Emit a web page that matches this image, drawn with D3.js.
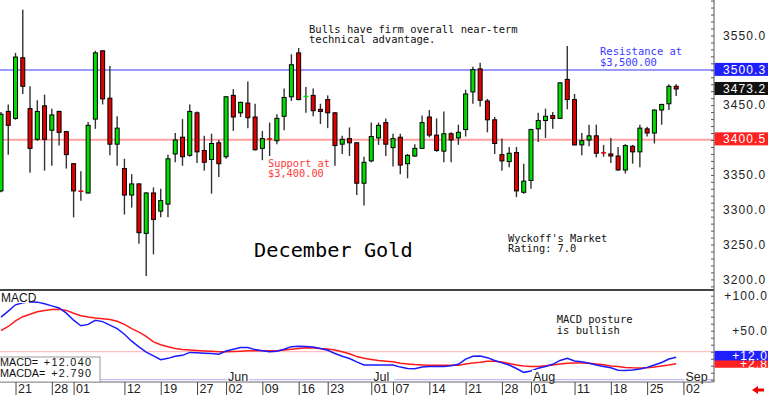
<!DOCTYPE html>
<html><head><meta charset="utf-8">
<script src="https://cdn.jsdelivr.net/npm/d3@7"></script>
<style>body{margin:0;background:#fff}svg{display:block}</style>
</head><body><svg id="c" width="768" height="398"></svg>
<script>
// ---------- data ----------
const dates = ("04-16 04-17 04-21 04-22 04-23 04-24 04-25 04-28 04-29 04-30 " +
 "05-01 05-02 05-05 05-06 05-07 05-08 05-09 05-12 05-13 05-14 05-15 05-16 05-19 05-20 05-21 05-22 05-23 05-27 05-28 05-29 05-30 " +
 "06-02 06-03 06-04 06-05 06-06 06-09 06-10 06-11 06-12 06-13 06-16 06-17 06-18 06-20 06-23 06-24 06-25 06-26 06-27 06-30 " +
 "07-01 07-02 07-03 07-07 07-08 07-09 07-10 07-11 07-14 07-15 07-16 07-17 07-18 07-21 07-22 07-23 07-24 07-25 07-28 07-29 07-30 07-31 " +
 "08-01 08-04 08-05 08-06 08-07 08-08 08-11 08-12 08-13 08-14 08-15 08-18 08-19 08-20 08-21 08-22 08-25 08-26 08-27 08-28 08-29 " +
 "09-02 09-03 09-04 09-05 09-08").split(" ");
const open  = [3327,3441,3431,3518,3445,3401,3449,3414,3441,3412,3366,3327,3324,3430,3528,3460,3394,3359,3321,3337,3266,3324,3298,3308,3380,3404,3378,3439,3385,3372,3396,3376,3464,3439,3453,3433,3388,3402,3399,3434,3462,3525,3462,3464,3444,3458,3439,3394,3402,3396,3338,3370,3403,3425,3389,3404,3366,3377,3388,3433,3407,3384,3409,3403,3415,3469,3502,3456,3429,3379,3369,3382,3325,3342,3416,3428,3435,3431,3487,3458,3393,3400,3406,3382,3380,3377,3357,3391,3383,3416,3410,3443,3452,3477];
const high  = [3440,3451,3525,3587,3477,3457,3465,3445,3442,3413,3367,3355,3426,3528,3529,3506,3434,3373,3351,3338,3325,3332,3330,3379,3410,3430,3451,3441,3406,3409,3400,3463,3473,3455,3484,3452,3413,3425,3437,3474,3523,3532,3476,3474,3452,3464,3440,3406,3418,3397,3376,3425,3425,3431,3409,3409,3380,3394,3435,3443,3431,3441,3411,3422,3472,3505,3511,3459,3433,3402,3390,3390,3366,3416,3439,3445,3440,3483,3535,3466,3410,3422,3422,3393,3403,3390,3394,3393,3422,3419,3444,3452,3480,3480];
const low   = [3325,3379,3429,3466,3353,3399,3356,3363,3392,3359,3289,3313,3323,3416,3451,3378,3363,3293,3303,3251,3205,3236,3289,3289,3368,3363,3376,3367,3356,3323,3347,3373,3413,3433,3417,3385,3371,3377,3394,3414,3456,3457,3439,3434,3423,3417,3363,3380,3377,3321,3306,3368,3393,3377,3362,3351,3345,3376,3387,3404,3383,3368,3368,3393,3405,3452,3448,3411,3380,3356,3361,3318,3323,3330,3397,3403,3416,3430,3444,3392,3378,3391,3375,3376,3367,3356,3352,3366,3361,3405,3395,3422,3443,3463];
const close = [3437,3421,3519,3477,3388,3441,3401,3436,3411,3379,3327,3326,3421,3525,3459,3394,3417,3321,3337,3267,3324,3286,3313,3373,3400,3376,3441,3383,3368,3395,3366,3462,3433,3454,3432,3386,3402,3401,3431,3461,3508,3458,3463,3442,3441,3439,3392,3401,3396,3338,3368,3405,3421,3394,3402,3364,3378,3388,3425,3407,3385,3409,3400,3411,3466,3501,3457,3429,3395,3370,3381,3327,3341,3415,3428,3434,3431,3482,3458,3393,3399,3406,3381,3381,3377,3357,3392,3383,3417,3410,3443,3451,3477,3473.2];
const macd  = [69.5,78,87,90,91.4,90.8,88.5,85.5,82.5,75,65,57,59,64.8,63,58,53,45,35,27,19.5,14,8.5,10.5,13.5,14.8,19,18.4,17.9,17.5,16.5,21,23.5,26,26,23,21.5,20,20.7,23.5,27.2,27.8,27.5,26.7,24.5,22,17.5,13.5,10.3,5.5,1,1,1,1,1,-2,-4,-4.5,-2,-1,-1,-1,0,2,9.5,13.5,13.9,11.5,7.5,4,1,-4,-9.5,-7.5,-3.5,-1,2,7.5,10.5,6.7,5.5,3.5,1,-1,-2.9,-6.5,-6.7,-6,-4.7,-2.4,1,4.5,9.5,12.04];
const macda = [50,56,64,70,73.4,77,79,80.2,80.5,79,75,71.5,69.5,68,67,66,63.5,59,53,48,42,34,30,27,24.5,23,22.4,21.7,21.1,20.7,20,20,20.3,20.8,21.3,21.4,21.4,21.4,21.4,22.5,23.5,24.6,25.5,25.3,24.5,24,22.5,20,17,13,10.5,9,7.5,6.5,5.6,3.5,2.5,1.6,1.1,0.8,0.5,0.5,0.5,0.8,2.3,3.8,4.8,6.2,6.3,5.2,3.2,1,-0.5,-1.2,-1,0,1,2.5,3.5,3.8,3.8,3.5,2.5,1.5,-0.3,-1.2,-2.5,-3.1,-3.3,-3,-1.8,-0.5,1,2.79];
const tickDates = ["04-21","04-28","05-01","05-12","05-19","05-27","06-02","06-09","06-16","06-23","07-01","07-07","07-14","07-21","07-28","08-01","08-11","08-18","08-25","09-02"];
const monthLabels = ["Jun","Jul","Aug","Sep"];
const monthDates = ["06-02","07-01","08-01","09-02"];
const priceTicks = [3200,3250,3300,3350,3450,3550];
const macdTicks = [100,50];
const resistance = 3500.3, support = 3400.5, last = 3473.2;
const macdBand = [20,-20];

// ---------- layout ----------
const svg = d3.select("#c");
const axisX = 714, mBot = 382;
const x = d3.scaleLinear().domain([0, 98.21]).range([1, axisX]);
const y = d3.scaleLinear().domain([3400, 3500]).range([140, 70.3]);
const ym = d3.scaleLinear().domain([0, 100]).range([365.7, 295.7]);
const idx = d => dates.indexOf(d);
const mono = "'DejaVu Sans Mono', monospace";
const sans = "'Liberation Sans', Arial, sans-serif";
const defs = svg.append("defs");

svg.append("rect").attr("width",768).attr("height",398).attr("fill","#fff");

// support / resistance
svg.append("line").attr("x1",0).attr("x2",axisX).attr("y1",y(resistance)).attr("y2",y(resistance)).attr("stroke","#9a9aff").attr("stroke-width",2);
svg.append("line").attr("x1",0).attr("x2",axisX).attr("y1",y(support)).attr("y2",y(support)).attr("stroke","#ffa0a0").attr("stroke-width",2);

// candles
const cg = svg.append("g");
d3.range(close.length).forEach(i => {
  const up = close[i] >= open[i];
  const cx = x(i);
  cg.append("line").attr("x1",cx).attr("x2",cx).attr("y1",y(high[i])).attr("y2",y(low[i])).attr("stroke","#333").attr("stroke-width",1.4);
  const t = y(Math.max(open[i],close[i])), b = y(Math.min(open[i],close[i]));
  const col = up ? "#00dd00" : "#e00000";
  if (b - t < 1.5) {
    cg.append("line").attr("x1",cx-2.5).attr("x2",cx+2.5).attr("y1",(t+b)/2).attr("y2",(t+b)/2).attr("stroke",col).attr("stroke-width",1.5);
  } else {
    cg.append("rect").attr("x",cx-2).attr("width",4).attr("y",t).attr("height",b-t).attr("fill",col).attr("stroke","#000").attr("stroke-width",1);
  }
});

// annotations
function txt(lines, x0, y0, size, fam, color, lh) {
  const t = svg.append("text").attr("font-family",fam).attr("font-size",size).attr("fill",color);
  lines.forEach((l,k) => t.append("tspan").attr("x",x0).attr("y",y0+k*lh).text(l));
  return t;
}
txt(["Bulls have firm overall near-term","technical advantage."],309,32.5,10.5,mono,"#111",10.8);
txt(["Resistance at","$3,500.00"],600,55,10.5,mono,"#3a3aff",10.5);
txt(["Support at","$3,400.00"],268,166.5,10.3,mono,"#ff3a3a",10.2);
txt(["Wyckoff's Market","Rating: 7.0"],508,242.3,10.3,mono,"#111",10);
txt(["December Gold"],254,257,20.3,mono,"#000",0);
txt(["MACD posture","is bullish"],556.7,323.3,10.5,mono,"#111",10.4);

// panel borders
svg.append("line").attr("x1",0).attr("x2",axisX).attr("y1",290).attr("y2",290).attr("stroke","#444").attr("stroke-width",2);
svg.append("line").attr("x1",0).attr("x2",axisX).attr("y1",mBot).attr("y2",mBot).attr("stroke","#666").attr("stroke-width",1);
svg.append("line").attr("x1",axisX).attr("x2",axisX).attr("y1",0).attr("y2",mBot).attr("stroke","#555").attr("stroke-width",1);

// MACD bands
svg.append("line").attr("x1",0).attr("x2",axisX).attr("y1",ym(macdBand[0])).attr("y2",ym(macdBand[0])).attr("stroke","#ffb0b0").attr("stroke-width",1);
svg.append("line").attr("x1",0).attr("x2",axisX).attr("y1",ym(macdBand[1])).attr("y2",ym(macdBand[1])).attr("stroke","#b0b0ff").attr("stroke-width",1);

// MACD lines
const ln = d3.line().x((d,i)=>x(i)).y(d=>ym(d));
svg.append("path").datum(macda).attr("d",ln).attr("fill","none").attr("stroke","#ff1a1a").attr("stroke-width",1.5);
svg.append("path").datum(macd).attr("d",ln).attr("fill","none").attr("stroke","#1a1aff").attr("stroke-width",1.5);

// MACD label
svg.append("rect").attr("x",0).attr("y",291).attr("width",29).attr("height",12).attr("fill","#fff");
svg.append("text").attr("x",1).attr("y",301.5).attr("font-family",sans).attr("font-size",12).attr("fill","#111").text("MACD");

// legend box
svg.append("rect").attr("x",-1).attr("y",357).attr("width",101).attr("height",25).attr("fill","#fff").attr("stroke","#999").attr("stroke-width",1);
const lg = [["MACD=","+" + macd[macd.length-1].toFixed(3)],["MACDA=","+" + macda[macda.length-1].toFixed(3)]];
lg.forEach((r,k)=>{
  svg.append("text").attr("x",0).attr("y",366+k*11.3).attr("font-family",sans).attr("font-size",10.8).attr("fill","#111").text(r[0]);
  svg.append("text").attr("x",92.3).attr("y",366+k*11.3).attr("text-anchor","end").attr("font-family",sans).attr("font-size",10.8).attr("letter-spacing",1.3).attr("fill","#111").text(r[1]);
});

// price axis
const minorP = d3.range(3190, 3601, 10);
svg.append("g").attr("transform",`translate(${axisX},0)`)
  .call(d3.axisLeft(y).tickValues(minorP).tickSize(3).tickFormat(""))
  .call(g=>g.select(".domain").remove())
  .call(g=>g.selectAll("line").attr("stroke","#555"));
svg.append("g").attr("transform",`translate(${axisX},0)`)
  .call(d3.axisRight(y).tickValues(priceTicks).tickSize(0).tickPadding(9).tickFormat(d=>d.toFixed(1)))
  .call(g=>g.select(".domain").remove())
  .call(g=>g.selectAll("text").attr("font-family",sans).attr("font-size",12).attr("letter-spacing",1.1).attr("fill","#222").attr("dy","0.3em"));

// price boxes
function box(v, fill, yy) {
  svg.append("rect").attr("x",axisX+0.5).attr("y",yy-6.5).attr("width",768-axisX).attr("height",13).attr("fill",fill);
  svg.append("text").attr("x",axisX+9).attr("y",yy+4.4).attr("font-family",sans).attr("font-size",12).attr("letter-spacing",1.1).attr("fill","#fff").text(v.toFixed(1));
}
box(resistance,"#2020ff",y(resistance)-0.7);
box(last,"#111",y(last)-0.5);
box(support,"#ff2020",y(support)-0.8);

// MACD axis
svg.append("g").attr("transform",`translate(${axisX},0)`)
  .call(d3.axisLeft(ym).tickValues(d3.range(-20,106,10)).tickSize(3).tickFormat(""))
  .call(g=>g.select(".domain").remove())
  .call(g=>g.selectAll("line").attr("stroke","#555"));
svg.append("g").attr("transform",`translate(768,0)`)
  .call(d3.axisLeft(ym).tickValues(macdTicks).tickSize(0).tickPadding(0).tickFormat(d=>"+"+d.toFixed(1)))
  .call(g=>g.select(".domain").remove())
  .call(g=>g.selectAll("text").attr("font-family",sans).attr("font-size",12).attr("letter-spacing",1.1).attr("fill","#222").attr("dy","0.3em"));

// MACD value boxes (text clipped to its box)
const mv = macd[macd.length-1], sv = macda[macda.length-1];
function mbox(id, v, fill, y0, h, base) {
  defs.append("clipPath").attr("id",id).append("rect").attr("x",axisX).attr("y",y0).attr("width",768-axisX).attr("height",h);
  svg.append("rect").attr("x",axisX+0.5).attr("y",y0).attr("width",768-axisX).attr("height",h).attr("fill",fill);
  svg.append("text").attr("clip-path",`url(#${id})`).attr("x",768).attr("y",base).attr("text-anchor","end").attr("font-family",sans).attr("font-size",12).attr("letter-spacing",1.1).attr("fill","#fff").text("+"+v.toFixed(1));
}
mbox("cr", sv, "#ff2020", ym(sv)-4, 8, ym(sv)+4.6);
mbox("cb", mv, "#2020ff", ym(mv)-6.4, 9.6, ym(mv)+2.8);

// date axis
svg.append("g").attr("transform",`translate(0,${mBot})`)
  .call(d3.axisBottom(x).tickValues(tickDates.map(idx)).tickSize(13).tickPadding(0).tickFormat(d=>dates[d].slice(3)))
  .call(g=>g.select(".domain").remove())
  .call(g=>g.selectAll("line").attr("stroke","#444"))
  .call(g=>g.selectAll("text").attr("text-anchor","start").attr("dx",2).attr("y",2).attr("dy","0.71em")
     .attr("font-family",sans).attr("font-size",12.5).attr("fill","#222"));
// month labels
monthLabels.forEach((m,k)=>{
  const xx = x(idx(monthDates[k]));
  svg.append("rect").attr("x",xx+1).attr("y",370).attr("width",22).attr("height",11).attr("fill","#fff");
  svg.append("text").attr("x",xx+2).attr("y",380.5).attr("font-family",sans).attr("font-size",12.5).attr("fill","#222").text(m);
});
// small red arrow
svg.append("path").attr("d","M752,390 l6,-4 v2.5 h6 v3 h-6 v2.5 z").attr("fill","#ee0000");
</script></body></html>
